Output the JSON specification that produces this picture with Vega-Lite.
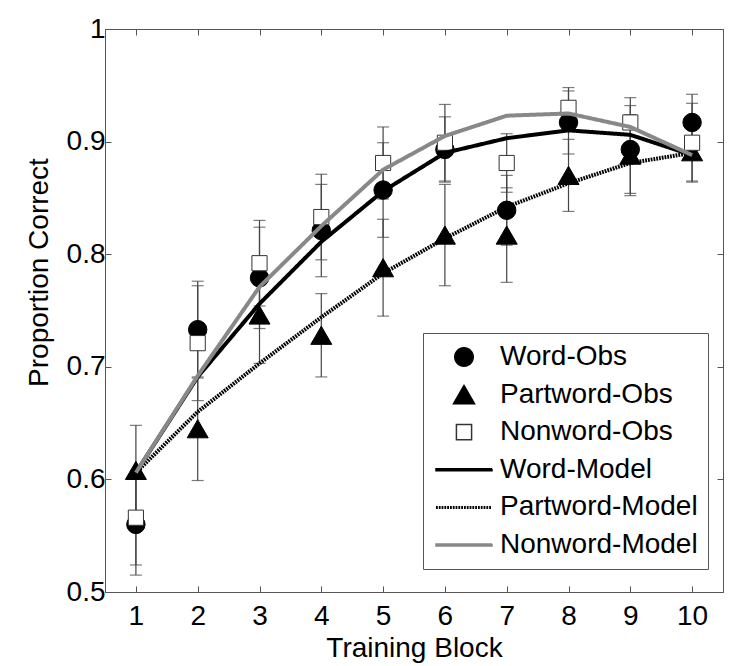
{
  "$schema": "https://vega.github.io/schema/vega-lite/v6.json",
  "width": 618,
  "height": 563,
  "autosize": {"type": "none"},
  "padding": {"left": 105, "top": 29, "right": 27, "bottom": 74},
  "background": "white",
  "config": {
    "font": "Liberation Sans",
    "view": {"stroke": "#555", "strokeWidth": 1},
    "axis": {
      "domain": false,
      "grid": false,
      "tickColor": "#555",
      "tickSize": -6,
      "tickWidth": 1,
      "labelFont": "Liberation Sans",
      "labelFontSize": 28,
      "labelColor": "black",
      "titleFont": "Liberation Sans",
      "titleFontSize": 28,
      "titleFontWeight": "normal",
      "titleColor": "black"
    },
    "legend": {
      "labelFont": "Liberation Sans",
      "labelFontSize": 28,
      "labelColor": "black"
    }
  },
  "datasets": {
    "obs": [
      {"block": 1, "series": "Word-Obs", "value": 0.560, "err": 0.045},
      {"block": 2, "series": "Word-Obs", "value": 0.733, "err": 0.043},
      {"block": 3, "series": "Word-Obs", "value": 0.779, "err": 0.045},
      {"block": 4, "series": "Word-Obs", "value": 0.821, "err": 0.041},
      {"block": 5, "series": "Word-Obs", "value": 0.857, "err": 0.042},
      {"block": 6, "series": "Word-Obs", "value": 0.893, "err": 0.029},
      {"block": 7, "series": "Word-Obs", "value": 0.839, "err": 0.031},
      {"block": 8, "series": "Word-Obs", "value": 0.917, "err": 0.028},
      {"block": 9, "series": "Word-Obs", "value": 0.893, "err": 0.039},
      {"block": 10, "series": "Word-Obs", "value": 0.917, "err": 0.025},
      {"block": 1, "series": "Partword-Obs", "value": 0.608, "err": 0.040},
      {"block": 2, "series": "Partword-Obs", "value": 0.645, "err": 0.046},
      {"block": 3, "series": "Partword-Obs", "value": 0.746, "err": 0.043},
      {"block": 4, "series": "Partword-Obs", "value": 0.728, "err": 0.037},
      {"block": 5, "series": "Partword-Obs", "value": 0.788, "err": 0.043},
      {"block": 6, "series": "Partword-Obs", "value": 0.817, "err": 0.045},
      {"block": 7, "series": "Partword-Obs", "value": 0.817, "err": 0.042},
      {"block": 8, "series": "Partword-Obs", "value": 0.870, "err": 0.032},
      {"block": 9, "series": "Partword-Obs", "value": 0.888, "err": 0.036},
      {"block": 10, "series": "Partword-Obs", "value": 0.891, "err": 0.026},
      {"block": 1, "series": "Nonword-Obs", "value": 0.566, "err": 0.042},
      {"block": 2, "series": "Nonword-Obs", "value": 0.721, "err": 0.051},
      {"block": 3, "series": "Nonword-Obs", "value": 0.792, "err": 0.038},
      {"block": 4, "series": "Nonword-Obs", "value": 0.833, "err": 0.038},
      {"block": 5, "series": "Nonword-Obs", "value": 0.881, "err": 0.032},
      {"block": 6, "series": "Nonword-Obs", "value": 0.899, "err": 0.034},
      {"block": 7, "series": "Nonword-Obs", "value": 0.881, "err": 0.026},
      {"block": 8, "series": "Nonword-Obs", "value": 0.930, "err": 0.018},
      {"block": 9, "series": "Nonword-Obs", "value": 0.917, "err": 0.022},
      {"block": 10, "series": "Nonword-Obs", "value": 0.899, "err": 0.035}
    ],
    "model": [
      {"block": 1, "series": "Word-Model", "value": 0.606},
      {"block": 2, "series": "Word-Model", "value": 0.691},
      {"block": 3, "series": "Word-Model", "value": 0.756},
      {"block": 4, "series": "Word-Model", "value": 0.811},
      {"block": 5, "series": "Word-Model", "value": 0.856},
      {"block": 6, "series": "Word-Model", "value": 0.890},
      {"block": 7, "series": "Word-Model", "value": 0.903},
      {"block": 8, "series": "Word-Model", "value": 0.910},
      {"block": 9, "series": "Word-Model", "value": 0.906},
      {"block": 10, "series": "Word-Model", "value": 0.888},
      {"block": 1, "series": "Partword-Model", "value": 0.606},
      {"block": 2, "series": "Partword-Model", "value": 0.660},
      {"block": 3, "series": "Partword-Model", "value": 0.703},
      {"block": 4, "series": "Partword-Model", "value": 0.744},
      {"block": 5, "series": "Partword-Model", "value": 0.783},
      {"block": 6, "series": "Partword-Model", "value": 0.814},
      {"block": 7, "series": "Partword-Model", "value": 0.842},
      {"block": 8, "series": "Partword-Model", "value": 0.863},
      {"block": 9, "series": "Partword-Model", "value": 0.881},
      {"block": 10, "series": "Partword-Model", "value": 0.890},
      {"block": 1, "series": "Nonword-Model", "value": 0.606},
      {"block": 2, "series": "Nonword-Model", "value": 0.692},
      {"block": 3, "series": "Nonword-Model", "value": 0.771},
      {"block": 4, "series": "Nonword-Model", "value": 0.825},
      {"block": 5, "series": "Nonword-Model", "value": 0.875},
      {"block": 6, "series": "Nonword-Model", "value": 0.905},
      {"block": 7, "series": "Nonword-Model", "value": 0.923},
      {"block": 8, "series": "Nonword-Model", "value": 0.925},
      {"block": 9, "series": "Nonword-Model", "value": 0.913},
      {"block": 10, "series": "Nonword-Model", "value": 0.888}
    ]
  },
  "layer": [
    {
      "data": {"name": "obs"},
      "mark": {"type": "errorbar", "ticks": true, "size": 12, "thickness": 1.2, "color": "#444"},
      "encoding": {
        "x": {
          "field": "block", "type": "quantitative",
          "scale": {"domain": [0.5, 10.5], "nice": false, "zero": false},
          "axis": {
            "orient": "bottom", "values": [1, 2, 3, 4, 5, 6, 7, 8, 9, 10],
            "title": "Training Block", "labelPadding": 16, "labelBaseline": "top",
            "titleY": 64, "titleBaseline": "alphabetic"
          }
        },
        "y": {
          "field": "value", "type": "quantitative",
          "scale": {"domain": [0.5, 1], "nice": false, "zero": false},
          "axis": {
            "orient": "left", "values": [0.5, 0.6, 0.7, 0.8, 0.9, 1],
            "labelExpr": "datum.value == 1 ? '1' : format(datum.value, '.1f')",
            "title": "Proportion Correct", "labelPadding": 6,
            "titleX": -58, "titleY": 243, "titleAngle": -90,
            "titleBaseline": "alphabetic", "titleAlign": "center"
          }
        },
        "yError": {"field": "err"}
      }
    },
    {
      "data": {"name": "obs"},
      "mark": {"type": "point", "strokeWidth": 1, "opacity": 1},
      "encoding": {
        "x": {
          "field": "block", "type": "quantitative",
          "scale": {"domain": [0.5, 10.5], "nice": false, "zero": false},
          "axis": {"orient": "top", "values": [1, 2, 3, 4, 5, 6, 7, 8, 9, 10], "labels": false, "title": null}
        },
        "y": {
          "field": "value", "type": "quantitative",
          "scale": {"domain": [0.5, 1], "nice": false, "zero": false},
          "axis": {"orient": "right", "values": [0.5, 0.6, 0.7, 0.8, 0.9, 1], "labels": false, "title": null}
        },
        "shape": {
          "field": "series", "type": "nominal",
          "scale": {
            "domain": ["Word-Obs", "Partword-Obs", "Nonword-Obs", "Word-Model", "Partword-Model", "Nonword-Model"],
            "range": [
              "circle", "triangle-up", "square",
              "M-1,-0.036H1V0.036H-1Z",
              "M-1,-0.026L1,-0.026M-1,0.026L1,0.026",
              "M-1,-0.036H1V0.036H-1Z"
            ]
          },
          "legend": {
            "title": null,
            "orient": "none",
            "legendX": 318,
            "legendY": 304,
            "padding": 10,
            "symbolOffset": 2,
            "labelOffset": 7,
            "rowPadding": 9.6,
            "clipHeight": 28,
            "strokeColor": "#555",
            "fillColor": "white",
            "labelLimit": 400,
            "symbolOpacity": 1
          }
        },
        "size": {
          "field": "series", "type": "nominal",
          "scale": {
            "type": "ordinal",
            "domain": ["Word-Obs", "Partword-Obs", "Nonword-Obs", "Word-Model", "Partword-Model", "Nonword-Model"],
            "range": [340, 441, 230, 3136, 3136, 3136]
          }
        },
        "fill": {
          "field": "series", "type": "nominal",
          "scale": {
            "domain": ["Word-Obs", "Partword-Obs", "Nonword-Obs", "Word-Model", "Partword-Model", "Nonword-Model"],
            "range": ["black", "black", "white", "black", "transparent", "#888888"]
          }
        },
        "stroke": {
          "field": "series", "type": "nominal",
          "scale": {
            "domain": ["Word-Obs", "Partword-Obs", "Nonword-Obs", "Word-Model", "Partword-Model", "Nonword-Model"],
            "range": ["black", "black", "#333333", "black", "black", "#888888"]
          }
        }
      }
    },
    {
      "data": {"name": "model"},
      "mark": {"type": "line", "strokeWidth": 4},
      "encoding": {
        "x": {"field": "block", "type": "quantitative", "axis": null},
        "y": {"field": "value", "type": "quantitative", "axis": null},
        "stroke": {"field": "series", "type": "nominal"},
        "strokeDash": {
          "field": "series", "type": "nominal",
          "scale": {
            "domain": ["Word-Obs", "Partword-Obs", "Nonword-Obs", "Word-Model", "Partword-Model", "Nonword-Model"],
            "range": [[1, 0], [1, 0], [1, 0], [1, 0], [1.8, 1], [1, 0]]
          }
        }
      }
    }
  ],
  "resolve": {"axis": {"x": "independent", "y": "independent"}}
}
